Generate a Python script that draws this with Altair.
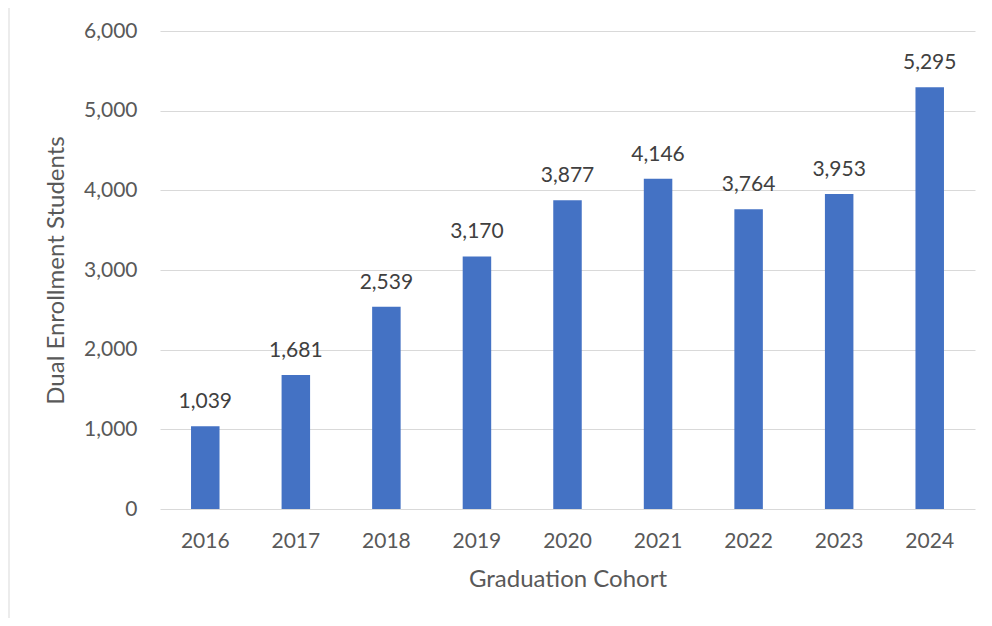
import altair as alt
import pandas as pd

cohorts = ["2016", "2017", "2018", "2019", "2020", "2021", "2022", "2023", "2024"]
students = [1039, 1681, 2539, 3170, 3877, 4146, 3764, 3953, 5295]
y_ticks = [0, 1000, 2000, 3000, 4000, 5000, 6000]

df = pd.DataFrame({"cohort": cohorts, "students": students})

FONT = "Lato"
LABEL_COLOR = "#595959"
DATA_LABEL_COLOR = "#404040"
GRID = "#d9d9d9"

x_enc = alt.X(
    "cohort:N",
    sort=cohorts,
    scale=alt.Scale(paddingInner=0, paddingOuter=0),
    axis=alt.Axis(
        title="Graduation Cohort",
        labelAngle=0,
        labelFont=FONT,
        labelFontSize=21,
        labelColor=LABEL_COLOR,
        labelBaseline="alphabetic",
        labelPadding=38,
        ticks=False,
        tickSize=0,
        domain=False,
        grid=False,
        titleFont=FONT,
        titleFontSize=24,
        titleFontWeight="normal",
        titleColor=LABEL_COLOR,
        titleBaseline="alphabetic",
        titleY=77,
    ),
)

y_enc = alt.Y(
    "students:Q",
    scale=alt.Scale(domain=[0, 6000], nice=False),
    axis=alt.Axis(
        title="Dual Enrollment Students",
        values=y_ticks,
        format=",d",
        labelFont=FONT,
        labelFontSize=21,
        labelColor=LABEL_COLOR,
        labelPadding=23,
        ticks=False,
        tickSize=0,
        domain=False,
        grid=True,
        gridColor=GRID,
        gridWidth=1,
        titleFont=FONT,
        titleFontSize=24,
        titleFontWeight="normal",
        titleColor=LABEL_COLOR,
        titleAngle=270,
        titleBaseline="alphabetic",
        titleAlign="center",
        titleX=-97,
        titleY=239,
    ),
)

bars = alt.Chart(df).mark_bar(color="#4472C4", size=28.5).encode(x=x_enc, y=y_enc)

labels = alt.Chart(df).mark_text(
    font=FONT,
    fontSize=21,
    color=DATA_LABEL_COLOR,
    baseline="alphabetic",
    dy=-18,
).encode(
    x=alt.X("cohort:N", sort=cohorts),
    y="students:Q",
    text=alt.Text("students:Q", format=",d"),
)

border = alt.Chart(pd.DataFrame({"a": [0]})).mark_rect(
    fill=None, stroke=GRID, strokeWidth=1
).encode(
    x=alt.value(-151),
    x2=alt.value(2000),
    y=alt.value(-29),
    y2=alt.value(2000),
)

chart = alt.layer(border, bars, labels).properties(
    width=815,
    height=478,
    autosize=alt.AutoSizeParams(type="none"),
    padding={"left": 152, "top": 23, "right": 9, "bottom": 109},
).configure(
    background="white",
    view=alt.ViewConfig(stroke=None),
)

chart.save("out.html", embed_options={"renderer": "svg", "actions": False})
